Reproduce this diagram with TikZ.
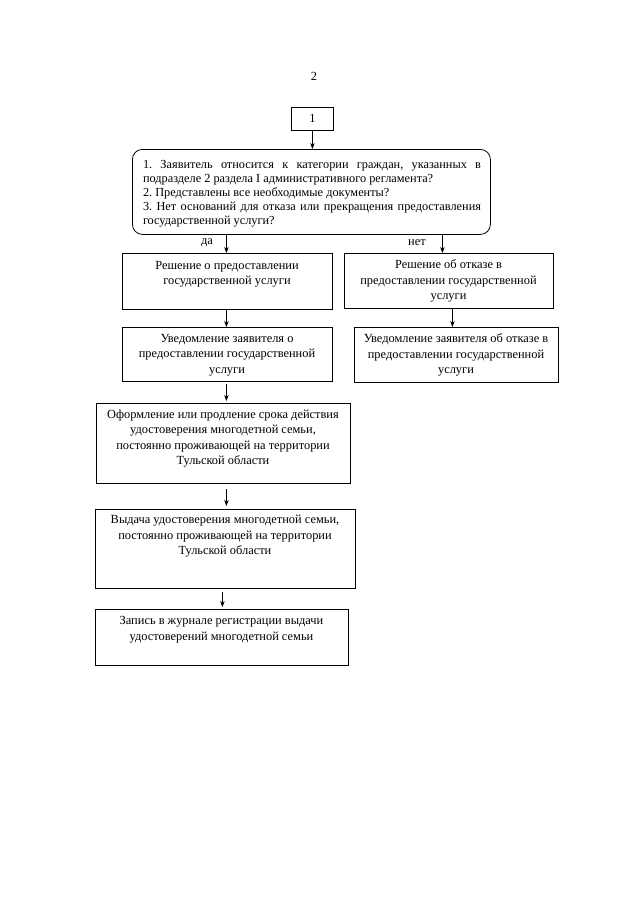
\documentclass[tikz,border=0pt]{standalone}
\usepackage{fontspec}
\setmainfont{Liberation Serif}
\usetikzlibrary{arrows.meta}
\begin{document}
\frenchspacing
\begin{tikzpicture}[x=1pt,y=-1pt,
  box/.style={draw, line width=0.8pt, inner sep=0pt, anchor=north west},
  txt/.style={align=center, font=\fontsize{12.4}{15.5}\selectfont, inner sep=0pt},
  lbl/.style={font=\fontsize{12.4}{15.5}\selectfont, inner sep=0pt},
  arr/.style={-{Stealth[length=6pt,width=4.5pt]}, line width=0.7pt}]
\useasboundingbox (0,0) rectangle (640,903);
% page number
\node[lbl] (pg) at (314,76) {2};
% start box
\node[box, minimum width=42pt, minimum height=23pt] (b1) at (291,107) {};
\node[lbl] (b1t) at (b1.center) {1};
% decision
\node[box, rounded corners=10pt, minimum width=358pt, minimum height=85pt] (q) at (132,149) {};
\node[inner sep=0pt] (qt) at (312,193.5) {\parbox{338pt}{\fontsize{12.3}{14}\selectfont
1. Заявитель относится к категории граждан, указанных в\linebreak
подразделе 2 раздела I административного регламента?\\
2. Представлены все необходимые документы?\\
3. Нет оснований для отказа или прекращения предоставления\linebreak
государственной услуги?}};
% left column
\node[box, minimum width=210pt, minimum height=56pt] (a) at (122,253) {};
\node[txt] (at) at (227,274.5) {Решение о предоставлении\\государственной услуги};
\node[box, minimum width=210pt, minimum height=54pt] (b) at (122,327) {};
\node[txt] (bt) at (227,355) {Уведомление заявителя о\\предоставлении государственной\\услуги};
\node[box, minimum width=254pt, minimum height=80pt] (c) at (96,403) {};
\node[txt] (ct) at (223,438.5) {Оформление или продление срока действия\\удостоверения многодетной семьи,\\постоянно проживающей на территории\\Тульской области};
\node[box, minimum width=260pt, minimum height=79pt] (d) at (95,509) {};
\node[txt] (dt) at (225,536.5) {Выдача удостоверения многодетной семьи,\\постоянно проживающей на территории\\Тульской области};
\node[box, minimum width=253pt, minimum height=56pt] (e) at (95,609) {};
\node[txt] (et) at (221.5,629.5) {Запись в журнале регистрации выдачи\\удостоверений многодетной семьи};
% right column
\node[box, minimum width=209pt, minimum height=55pt] (r1) at (344,253) {};
\node[txt] (r1t) at (448.5,281) {Решение об отказе в\\предоставлении государственной\\услуги};
\node[box, minimum width=204pt, minimum height=55pt] (r2) at (354,327) {};
\node[txt] (r2t) at (456,355) {Уведомление заявителя об отказе в\\предоставлении государственной\\услуги};
% labels
\node[lbl] (yes) at (207,243) {да};
\node[lbl] (no) at (417,243) {нет};
% connectors
\draw[arr] (b1.south) -- (b1.south |- q.north);
\draw[arr] ([xshift=-1pt]a.north |- q.south) -- ([xshift=-1pt]a.north);
\draw[arr] ([xshift=-6.5pt]r1.north |- q.south) -- ([xshift=-6.5pt]r1.north);
\draw[arr] ([xshift=-1pt]a.south) -- ([xshift=-1pt]b.north);
\draw[arr] ([xshift=3.5pt]r1.south) -- ([xshift=3.5pt]r1.south |- r2.north);
\draw[arr, shorten <=2pt, shorten >=2pt] ([xshift=-1pt]b.south) -- ([xshift=-1pt]b.south |- c.north);
\draw[arr, shorten <=5pt, shorten >=3pt] ([xshift=3pt]c.south) -- ([xshift=3pt]c.south |- d.north);
\draw[arr, shorten <=3pt, shorten >=2pt] ([xshift=-3pt]d.south) -- ([xshift=-3pt]d.south |- e.north);
\end{tikzpicture}
\end{document}
